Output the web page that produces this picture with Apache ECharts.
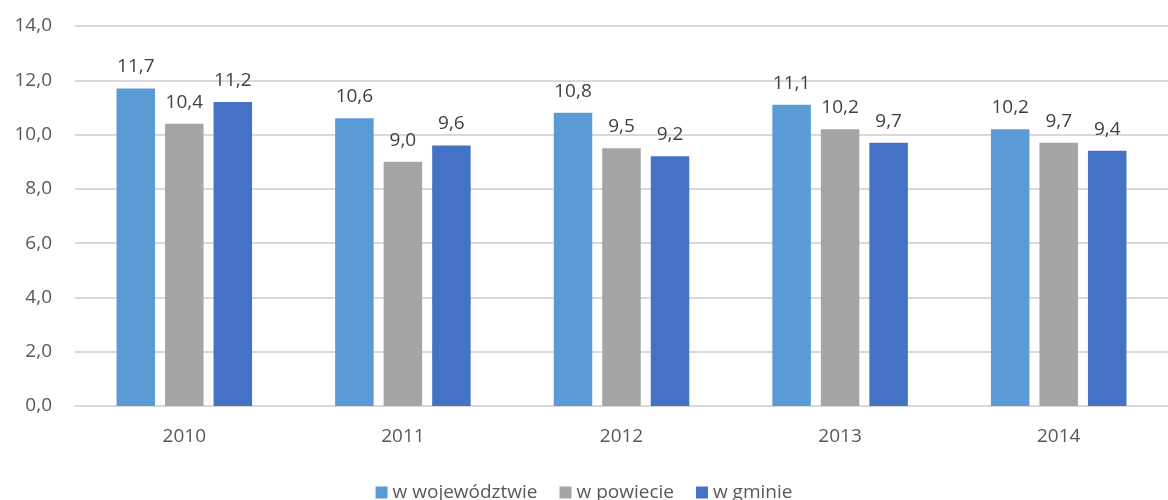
<!DOCTYPE html>
<html><head><meta charset="utf-8">
<script src="https://cdn.jsdelivr.net/npm/echarts@6/dist/echarts.min.js"></script>
<style>html,body{margin:0;padding:0;background:#fff}#c{width:1168px;height:500px}</style>
</head><body><div id="c"></div>
<script>
const categories = ['2010','2011','2012','2013','2014'];
const wWojewodztwie = [11.7,10.6,10.8,11.1,10.2];
const wPowiecie = [10.4,9.0,9.5,10.2,9.7];
const wGminie = [11.2,9.6,9.2,9.7,9.4];
const seriesNames = ['w województwie','w powiecie','w gminie'];
const colors = ['#5B9BD5','#A5A5A5','#4472C4'];
const FONT = 'Open Sans';
const FS = 19;
const fmt = v => v.toFixed(1).replace('.', ',');
function mk(name, data, color){
  return {name, type:'bar', data, barWidth:38.5, barGap:'26%',
    itemStyle:{color},
    label:{show:true, position:'top', distance:12, color:'#404040', fontFamily:FONT, fontSize:FS,
      formatter:p=>fmt(p.value)}};
}
const chart = echarts.init(document.getElementById('c'));
chart.setOption({
  animation:false,
  color:colors,
  grid:{left:75, right:0, top:26, bottom:94, containLabel:false},
  legend:{top:478, left:'center', itemWidth:12, itemHeight:12, itemGap:22, icon:'rect',
    textStyle:{color:'#595959', fontFamily:FONT, fontSize:FS, padding:[0,0,0,0]}, data:seriesNames},
  xAxis:{type:'category', data:categories, axisTick:{show:false},
    axisLine:{show:true, lineStyle:{color:'#D9D9D9', width:2}},
    axisLabel:{color:'#595959', fontFamily:FONT, fontSize:FS, margin:21}},
  yAxis:{type:'value', min:0, max:14, interval:2,
    axisLabel:{color:'#595959', fontFamily:FONT, fontSize:FS, margin:23, formatter:v=>fmt(v)},
    splitLine:{lineStyle:{color:'#D9D9D9', width:2}}, axisLine:{show:false}, axisTick:{show:false}},
  series:[mk(seriesNames[0], wWojewodztwie, colors[0]), mk(seriesNames[1], wPowiecie, colors[1]), mk(seriesNames[2], wGminie, colors[2])]
});
</script></body></html>
